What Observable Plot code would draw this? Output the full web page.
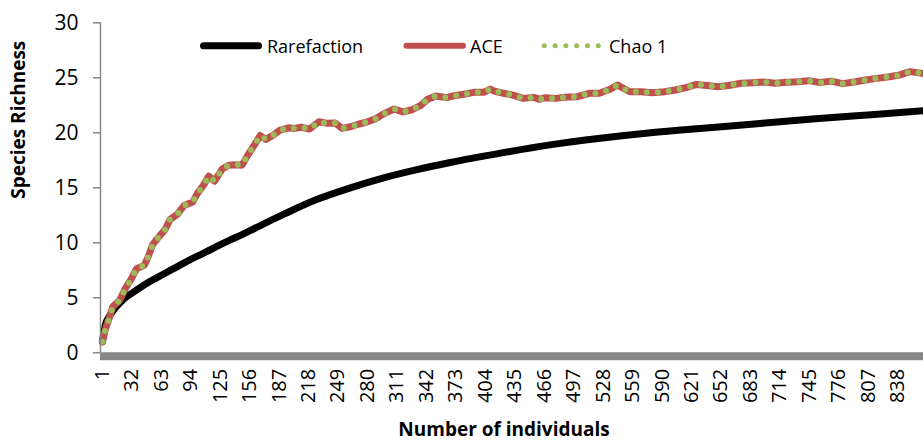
<!DOCTYPE html>
<html><head><meta charset="utf-8">
<script src="https://cdn.jsdelivr.net/npm/d3@7"></script>
<script src="https://cdn.jsdelivr.net/npm/@observablehq/plot@0.6"></script>
<style>
html,body{margin:0;padding:0;background:#fff;}
#wrap{position:relative;width:923px;height:445px;}
</style></head><body><div id="wrap"></div>
<script>
// ---- data ----
const xTickLabels = [1, 32, 63, 94, 125, 156, 187, 218, 249, 280, 311, 342, 373, 404, 435, 466, 497, 528, 559, 590, 621, 652, 683, 714, 745, 776, 807, 838];
const yTickLabels = [0, 5, 10, 15, 20, 25, 30];
const seriesNames = ["Rarefaction", "ACE", "Chao 1"];

const rareN = [1, 4, 10, 22, 36, 50, 64, 78, 92, 106, 120, 134, 148, 161, 192, 227, 262, 297, 332, 367, 420, 472, 525, 578, 630, 693, 748, 810, 865];
const rarefaction = [1.0, 2.5, 3.55, 4.76, 5.65, 6.43, 7.1, 7.75, 8.4, 9.0, 9.6, 10.2, 10.75, 11.3, 12.6, 13.95, 15.0, 15.9, 16.65, 17.3, 18.15, 18.9, 19.5, 20.0, 20.4, 20.85, 21.25, 21.65, 22.0];

const estN = [1, 4, 8, 12, 19, 25, 31, 37, 45, 49, 54, 60, 67, 72, 80, 87, 96, 101, 107, 113, 119, 127, 134, 141, 148, 154, 161, 167, 173, 181, 188, 197, 203, 210, 219, 229, 238, 246, 253, 262, 271, 280, 289, 298, 308, 317, 326, 336, 343, 352, 363, 371, 381, 392, 402, 409, 413, 423, 433, 444, 455, 461, 467, 478, 490, 501, 513, 524, 535, 543, 556, 568, 580, 592, 604, 616, 626, 637, 649, 660, 673, 685, 697, 709, 721, 733, 744, 756, 768, 780, 792, 804, 816, 829, 840, 851, 864];
const ace = [1.0, 2.1, 3.1, 4.2, 4.76, 5.83, 6.65, 7.65, 7.95, 8.7, 9.86, 10.5, 11.2, 12.1, 12.6, 13.4, 13.7, 14.5, 15.2, 16.06, 15.6, 16.7, 17.06, 17.1, 17.06, 17.97, 18.9, 19.75, 19.4, 19.8, 20.25, 20.45, 20.4, 20.5, 20.34, 21.0, 20.86, 20.9, 20.4, 20.55, 20.8, 21.0, 21.3, 21.77, 22.16, 21.9, 22.07, 22.5, 23.04, 23.34, 23.2, 23.37, 23.5, 23.68, 23.68, 23.98, 23.8, 23.59, 23.43, 23.13, 23.22, 23.04, 23.19, 23.13, 23.25, 23.28, 23.59, 23.59, 23.95, 24.34, 23.73, 23.73, 23.65, 23.73, 23.89, 24.13, 24.4, 24.3, 24.19, 24.3, 24.5, 24.55, 24.61, 24.5, 24.6, 24.65, 24.74, 24.57, 24.7, 24.47, 24.62, 24.8, 24.95, 25.1, 25.26, 25.56, 25.4];
const chao1 = [1.0, 2.1, 3.1, 4.2, 4.76, 5.83, 6.65, 7.65, 7.95, 8.7, 9.86, 10.5, 11.2, 12.1, 12.6, 13.4, 13.7, 14.5, 15.2, 16.06, 15.6, 16.7, 17.06, 17.1, 17.06, 17.97, 18.9, 19.75, 19.4, 19.8, 20.25, 20.45, 20.4, 20.5, 20.34, 21.0, 20.86, 20.9, 20.4, 20.55, 20.8, 21.0, 21.3, 21.77, 22.16, 21.9, 22.07, 22.5, 23.04, 23.34, 23.2, 23.37, 23.5, 23.68, 23.68, 23.98, 23.8, 23.59, 23.43, 23.13, 23.22, 23.04, 23.19, 23.13, 23.25, 23.28, 23.59, 23.59, 23.95, 24.34, 23.73, 23.73, 23.65, 23.73, 23.89, 24.13, 24.4, 24.3, 24.19, 24.3, 24.5, 24.55, 24.61, 24.5, 24.6, 24.65, 24.74, 24.57, 24.7, 24.47, 24.62, 24.8, 24.95, 25.1, 25.26, 25.56, 25.4];

// ---- tables ----
const rareData = rareN.map((n, i) => ({n, v: rarefaction[i]}));
const aceData = estN.map((n, i) => ({n, v: ace[i]}));
const chaoData = estN.map((n, i) => ({n, v: chao1[i]}));

const FONT = "'Open Sans', sans-serif";
const BLACK = "#000000", RED = "#C0504D", GREEN = "#9BBB59", GRAY = "#868686";

const chart = Plot.plot({
  width: 923,
  height: 445,
  marginLeft: 100,
  marginRight: 0,
  marginTop: 22.3,
  marginBottom: 92.7,
  style: {fontFamily: FONT, background: "white", color: "black", overflow: "visible"},
  x: {type: "linear", domain: [-1, 865]},
  y: {domain: [0, 30]},
  marks: [
    Plot.line(rareData, {x: "n", y: "v", stroke: BLACK, strokeWidth: 7, curve: "monotone-x", strokeLinecap: "round"}),
    Plot.line(aceData, {x: "n", y: "v", stroke: RED, strokeWidth: 7, curve: "linear", strokeLinejoin: "round", strokeLinecap: "round"}),
    Plot.line(chaoData, {x: "n", y: "v", stroke: GREEN, strokeWidth: 6, curve: "linear", strokeDasharray: "0 11", strokeLinecap: "round"}),
    Plot.ruleY([0], {stroke: "#878787", strokeWidth: 8, dy: 3.5}),
    Plot.ruleX([-1], {y1: 0, y2: 30, stroke: GRAY, strokeWidth: 1.5}),
    Plot.axisY({ticks: yTickLabels, tickSize: 7, tickPadding: 15, fontSize: 21, stroke: GRAY, strokeWidth: 1.5, fill: "black", label: null}),
    Plot.axisX({ticks: xTickLabels, tickSize: 0, tickRotate: -90, tickPadding: 16, fontSize: 20, fill: "black", label: null, tickFormat: d => String(d)}),
    Plot.text(["Species Richness"], {text: d => d, frameAnchor: "left", rotate: -90, dx: -82, dy: 11, fontWeight: "bold", fontSize: 19, fill: "black"}),
    Plot.text(["Number of individuals"], {text: d => d, frameAnchor: "bottom", dx: -8, dy: 82.7, fontWeight: "bold", fontSize: 19, fill: "black"})
  ]
});

document.getElementById("wrap").appendChild(chart);

// ---- legend (inside the plot area, top) ----
const svg = d3.select(chart);
const leg = svg.append("g").attr("font-family", FONT).attr("font-size", 18).attr("fill", "black").attr("text-anchor", "start");
const legY = 45.7;
// Rarefaction
leg.append("line").attr("x1", 203.5).attr("x2", 258.5).attr("y1", legY).attr("y2", legY)
  .attr("stroke", BLACK).attr("stroke-width", 7).attr("stroke-linecap", "round");
leg.append("text").attr("x", 267).attr("y", 52.5).attr("text-anchor", "start").text(seriesNames[0]);
// ACE
leg.append("line").attr("x1", 406.5).attr("x2", 463).attr("y1", legY).attr("y2", legY)
  .attr("stroke", RED).attr("stroke-width", 6).attr("stroke-linecap", "round");
leg.append("text").attr("x", 470).attr("y", 52.5).attr("text-anchor", "start").text(seriesNames[1]);
// Chao 1
leg.append("line").attr("x1", 544.3).attr("x2", 599).attr("y1", legY).attr("y2", legY)
  .attr("stroke", GREEN).attr("stroke-width", 5).attr("stroke-linecap", "round").attr("stroke-dasharray", "0 10.8");
leg.append("text").attr("x", 609).attr("y", 52.5).attr("text-anchor", "start").text(seriesNames[2]);
</script></body></html>
